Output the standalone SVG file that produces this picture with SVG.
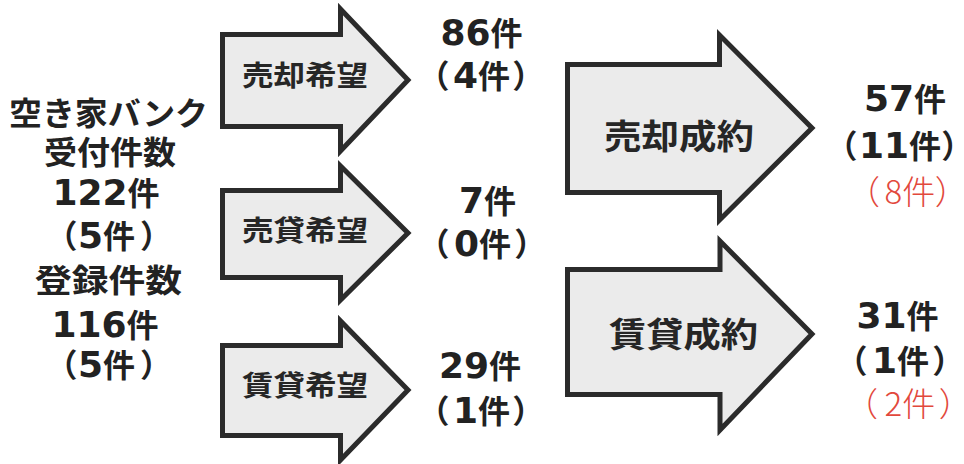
<svg xmlns="http://www.w3.org/2000/svg" width="964" height="464" viewBox="0 0 964 464">
<style>
.bg{fill:#ffffff}
.arrow{fill:#ebebeb;stroke:#2b2b2b;stroke-width:5;stroke-linejoin:miter}
.t{font-family:"Noto Sans CJK JP",sans-serif;font-weight:bold;font-size:32px;fill:#222222}
.m{text-anchor:middle}
.d{font-family:"DejaVu Sans",sans-serif;font-weight:bold;font-size:36px}
.c{font-feature-settings:"palt"}
.lab{font-family:"Noto Sans CJK JP",sans-serif;font-weight:bold;fill:#262626}
.red{font-family:"Noto Sans CJK JP",sans-serif;font-weight:300;font-size:33px;fill:#e2483c}
</style>
<rect class="bg" x="0" y="0" width="964" height="464"/>
<g id="connectors"/>
<g id="node-bank">
<text class="t" x="9" y="125" textLength="199" lengthAdjust="spacingAndGlyphs">空き家バンク</text>
<text class="t" x="44" y="164" textLength="132" lengthAdjust="spacingAndGlyphs">受付件数</text>
<text class="t m" x="106" y="205"><tspan class="d">122</tspan>件</text>
<text class="t" y="248"><tspan x="45.5">（</tspan><tspan class="d" x="78">5</tspan>件<tspan class="c" x="141.5">）</tspan></text>
<text class="t" x="35" y="292" textLength="147" lengthAdjust="spacingAndGlyphs">登録件数</text>
<text class="t m" x="105" y="337"><tspan class="d">116</tspan>件</text>
<text class="t" y="377"><tspan x="45.5">（</tspan><tspan class="d" x="78">5</tspan>件<tspan class="c" x="141.5">）</tspan></text>
</g>
<g id="node-sale-wish">
<path class="arrow" d="M222.5,34.5 H340.5 V9 L408,80 L340.5,151 V126.5 H222.5 Z"/>
<text class="lab" x="242" y="86" font-size="28" textLength="126" lengthAdjust="spacingAndGlyphs">売却希望</text>
</g>
<g id="node-sale-rent-wish">
<path class="arrow" d="M222.5,190.5 H340.5 V166 L408,233 L340.5,300 V277.5 H222.5 Z"/>
<text class="lab" x="242" y="241" font-size="28" textLength="126" lengthAdjust="spacingAndGlyphs">売貸希望</text>
</g>
<g id="node-rent-wish">
<path class="arrow" d="M222.5,345.5 H340.5 V321 L408,390 L340.5,460 V435.5 H222.5 Z"/>
<text class="lab" x="242" y="396" font-size="28" textLength="126" lengthAdjust="spacingAndGlyphs">賃貸希望</text>
</g>
<g id="node-count-sale">
<text class="t m" x="481.5" y="45"><tspan class="d">86</tspan>件</text>
<text class="t" y="88"><tspan x="417.4">（</tspan><tspan class="d" x="453">4</tspan>件<tspan class="c" x="513.6">）</tspan></text>
</g>
<g id="node-count-sale-rent">
<text class="t m" x="487.5" y="213"><tspan class="d">7</tspan>件</text>
<text class="t" y="256"><tspan x="417.4">（</tspan><tspan class="d" x="454">0</tspan>件<tspan class="c" x="515.6">）</tspan></text>
</g>
<g id="node-count-rent">
<text class="t m" x="480" y="378"><tspan class="d">29</tspan>件</text>
<text class="t" y="423"><tspan x="417.4">（</tspan><tspan class="d" x="453">1</tspan>件<tspan class="c" x="513.6">）</tspan></text>
</g>
<g id="node-sale-contract">
<path class="arrow" d="M567.5,64.5 H719.5 V35 L812,128 L719.5,220 V192.5 H567.5 Z"/>
<text class="lab" x="604" y="149" font-size="34" textLength="150" lengthAdjust="spacingAndGlyphs">売却成約</text>
</g>
<g id="node-rent-contract">
<path class="arrow" d="M567.5,269.5 H720 V241 L812,334 L720,430 V394.5 H567.5 Z"/>
<text class="lab" x="609" y="347" font-size="34" textLength="149" lengthAdjust="spacingAndGlyphs">賃貸成約</text>
</g>
<g id="node-result-sale">
<text class="t m" x="905" y="111"><tspan class="d">57</tspan>件</text>
<text class="t" y="158"><tspan x="825.4">（</tspan><tspan class="d" x="859">11</tspan>件<tspan class="c" x="942.6">）</tspan></text>
<text class="red" y="204"><tspan x="847">（</tspan><tspan x="884.5">8件</tspan><tspan class="c" x="936">）</tspan></text>
</g>
<g id="node-result-rent">
<text class="t m" x="897.5" y="328"><tspan class="d">31</tspan>件</text>
<text class="t" y="373"><tspan x="835.4">（</tspan><tspan class="d" x="872">1</tspan>件<tspan class="c" x="933.6">）</tspan></text>
<text class="red" y="416"><tspan x="845">（</tspan><tspan x="884.5">2件</tspan><tspan class="c" x="940">）</tspan></text>
</g>
</svg>
